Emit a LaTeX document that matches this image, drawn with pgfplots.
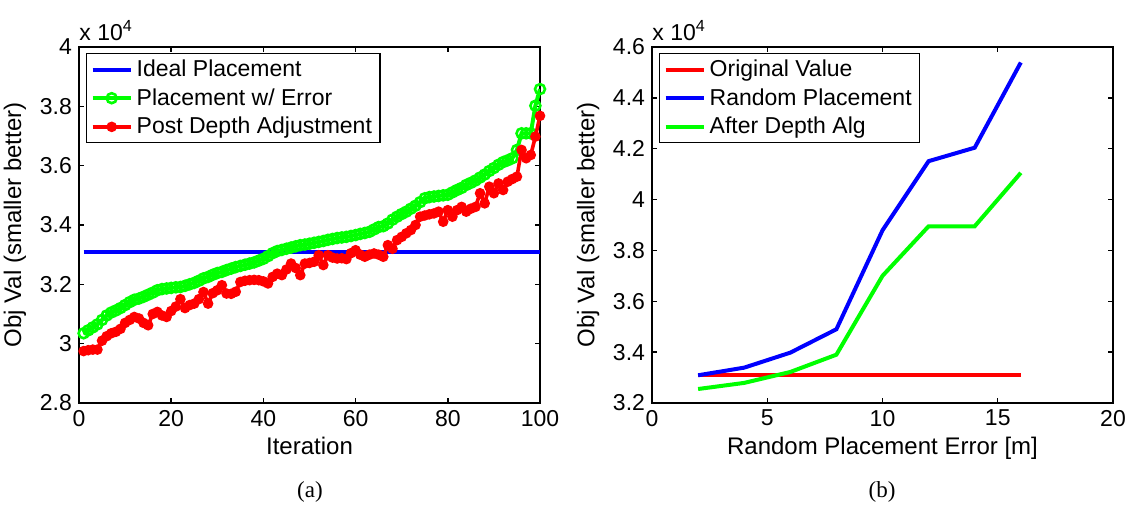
\documentclass[border=0pt]{standalone}
\usepackage{pgfplots}
\pgfplotsset{compat=1.18}
\usepackage{pgfplotstable}
\usepackage{fontspec}
\setmainfont{Liberation Serif}
\newfontfamily\hv{Liberation Sans}

\pgfplotstableread{
i pe pd
1 3.035 2.975
2 3.045 2.978
3 3.055 2.980
4 3.065 2.980
5 3.080 3.010
6 3.095 3.025
7 3.105 3.035
8 3.112 3.040
9 3.120 3.050
10 3.130 3.070
11 3.140 3.080
12 3.148 3.090
13 3.152 3.085
14 3.158 3.070
15 3.165 3.062
16 3.172 3.100
17 3.180 3.107
18 3.184 3.095
19 3.186 3.090
20 3.188 3.110
21 3.190 3.125
22 3.191 3.150
23 3.195 3.120
24 3.200 3.130
25 3.205 3.135
26 3.212 3.150
27 3.220 3.174
28 3.225 3.135
29 3.232 3.170
30 3.238 3.180
31 3.242 3.197
32 3.248 3.169
33 3.253 3.168
34 3.258 3.175
35 3.262 3.208
36 3.266 3.212
37 3.270 3.214
38 3.274 3.215
39 3.280 3.214
40 3.286 3.210
41 3.295 3.203
42 3.305 3.225
43 3.312 3.236
44 3.316 3.231
45 3.320 3.250
46 3.324 3.270
47 3.328 3.255
48 3.332 3.231
49 3.334 3.270
50 3.337 3.272
51 3.340 3.276
52 3.343 3.298
53 3.346 3.265
54 3.350 3.298
55 3.353 3.290
56 3.356 3.287
57 3.358 3.288
58 3.360 3.285
59 3.363 3.305
60 3.366 3.315
61 3.370 3.300
62 3.373 3.293
63 3.377 3.300
64 3.385 3.304
65 3.393 3.300
66 3.396 3.293
67 3.405 3.332
68 3.418 3.320
69 3.428 3.349
70 3.437 3.360
71 3.445 3.372
72 3.455 3.383
73 3.465 3.400
74 3.477 3.428
75 3.490 3.432
76 3.494 3.436
77 3.496 3.439
78 3.498 3.445
79 3.500 3.411
80 3.502 3.450
81 3.510 3.428
82 3.518 3.450
83 3.525 3.461
84 3.535 3.445
85 3.542 3.455
86 3.550 3.461
87 3.560 3.507
88 3.570 3.473
89 3.582 3.529
90 3.592 3.507
91 3.603 3.540
92 3.612 3.518
93 3.618 3.546
94 3.625 3.555
95 3.653 3.563
96 3.709 3.653
97 3.709 3.625
98 3.709 3.636
99 3.802 3.698
100 3.858 3.768
}\leftdata

\pgfplotstableread{
e orig rand after
2 3.3095 3.309 3.255
4 3.3095 3.339 3.279
6 3.3095 3.398 3.322
8 3.3095 3.490 3.390
10 3.3095 3.879 3.700
12 3.3095 4.151 3.895
14 3.3095 4.204 3.895
16 3.3095 4.539 4.105
}\rightdata

\definecolor{mblue}{rgb}{0,0,1}
\definecolor{mgreen}{rgb}{0,1,0}
\definecolor{mred}{rgb}{1,0,0}

\pgfplotsset{
  mstyle/.style={
    scale only axis, width=230.5pt, height=178pt,
    axis line style={line width=0.7pt},
    every tick/.style={black, line width=0.7pt},
    major tick length=2.5pt,
    tick align=inside,
    xtick pos=both, ytick pos=both,
    tick label style={font=\hv\fontsize{11.5}{13}\selectfont},
    /pgf/number format/assume math mode=true,
    label style={font=\hv\fontsize{12}{14}\selectfont},
    xlabel style={yshift=1.5pt},
    scaled ticks=false,
    clip mode=individual,
    legend style={font=\hv\fontsize{11.5}{13}\selectfont,
      at={(rel axis cs:0,1)}, anchor=north west, xshift=3.5pt, yshift=-3pt,
      draw=black, line width=0.7pt, inner xsep=2pt, inner ysep=1pt,
      row sep=0.5pt, cells={anchor=west}},
    legend image code/.code={\draw[mark repeat=2,mark phase=2,#1] plot coordinates {(0pt,0pt) (9.5pt,0pt) (19pt,0pt)};},
  }
}

\begin{document}
\begin{tikzpicture}[x=1pt,y=1pt]
\useasboundingbox (0,0) rectangle (562.5,254);

\begin{axis}[mstyle, at={(39.5pt,52.5pt)}, anchor=south west,
  xmin=0, xmax=100, ymin=2.8, ymax=4,
  xtick={0,20,40,60,80,100}, ytick={2.8,3,3.2,3.4,3.6,3.8,4},
  xlabel={Iteration}, ylabel={Obj Val (smaller better)}]
\addplot[mblue, line width=2pt] coordinates {(1,3.3095) (100,3.3095)};
\addlegendentry{Ideal Placement}
\addplot[mgreen, line width=2pt, mark=o, mark size=2.5pt, mark options={line width=1.3pt}] table[x=i,y=pe] {\leftdata};
\addlegendentry{Placement w/ Error}
\addplot[mred, line width=1.8pt, mark=*, mark size=1.7pt] table[x=i,y=pd] {\leftdata};
\addlegendentry{Post Depth Adjustment}
\node[anchor=south west, inner sep=0pt, font=\hv\fontsize{11.5}{13}\selectfont] at (rel axis cs:0,1) [yshift=3pt] {x 10\textsuperscript{4}};
\end{axis}

\begin{axis}[mstyle, at={(326pt,52.5pt)}, anchor=south west,
  xmin=0, xmax=20, ymin=3.2, ymax=4.6,
  xtick={0,5,10,15,20}, ytick={3.2,3.4,3.6,3.8,4,4.2,4.4,4.6},
  xlabel={Random Placement Error [m]}, ylabel={Obj Val (smaller better)}]
\addplot[mred, line width=2pt] table[x=e,y=orig] {\rightdata};
\addlegendentry{Original Value}
\addplot[mblue, line width=2pt] table[x=e,y=rand] {\rightdata};
\addlegendentry{Random Placement}
\addplot[mgreen, line width=2pt] table[x=e,y=after] {\rightdata};
\addlegendentry{After Depth Alg}
\node[anchor=south west, inner sep=0pt, font=\hv\fontsize{11.5}{13}\selectfont] at (rel axis cs:0,1) [yshift=3pt] {x 10\textsuperscript{4}};
\end{axis}

\node[font=\fontsize{11.5}{13}\selectfont] at (155,8) {(a)};
\node[font=\fontsize{11.5}{13}\selectfont] at (441,8) {(b)};
\end{tikzpicture}
\end{document}
